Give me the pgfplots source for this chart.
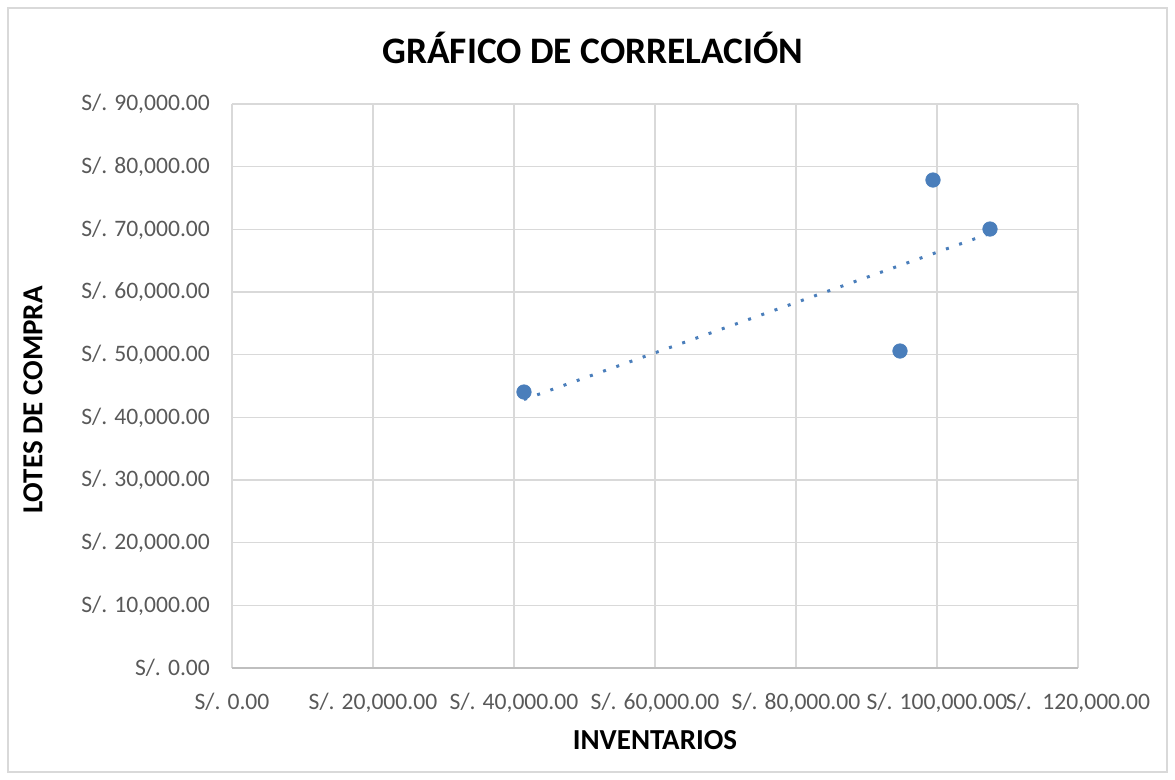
\documentclass[border=0pt]{standalone}
\usepackage{pgfplots}
\usepackage{pgfplotstable}
\pgfplotsset{compat=1.18}
\usepackage{fontspec}
\setmainfont{Carlito}
\definecolor{gridc}{HTML}{D9D9D9}
\definecolor{axc}{HTML}{BFBFBF}
\definecolor{tickc}{HTML}{595959}
\definecolor{ptc}{HTML}{4A7EBB}
\pgfplotstableread{
x y
41418 44040
94752 50583
99433 77870
107518 70050
}\datatable
\begin{document}
\begin{tikzpicture}
\useasboundingbox (-116pt,-56pt) rectangle (471.5pt,334pt);
\draw[gridc, line width=0.6pt] (-112pt,-52pt) rectangle (467.5pt,330pt);
\begin{axis}[
  at={(0,0)}, anchor=south west,
  width=423pt, height=282pt, scale only axis,
  xmin=0, xmax=120000, ymin=0, ymax=90000,
  scaled ticks=false,
  /pgf/number format/assume math mode=true,
  xtick={0,20000,40000,60000,80000,100000,120000},
  xticklabels={S/. 0.00, S/. 20{,}000.00, S/. 40{,}000.00, S/. 60{,}000.00, S/. 80{,}000.00, S/. 100{,}000.00, S/.\ \ 120{,}000.00},
  ytick={0,10000,20000,30000,40000,50000,60000,70000,80000,90000},
  yticklabels={S/. 0.00, S/. 10{,}000.00, S/. 20{,}000.00, S/. 30{,}000.00, S/. 40{,}000.00, S/. 50{,}000.00, S/. 60{,}000.00, S/. 70{,}000.00, S/. 80{,}000.00, S/. 90{,}000.00},
  xmajorgrids, ymajorgrids,
  grid style={gridc, line width=0.8pt},
  major tick length=0pt,
  axis line style={draw=none},
  axis x line*=bottom,
  x axis line style={draw=axc, line width=0.8pt},
  tick label style={font=\fontsize{11.8}{13}\selectfont, text=tickc},
  xticklabel style={yshift=-9pt},
  yticklabel style={xshift=-7.5pt},
  xlabel={\textbf{INVENTARIOS}},
  ylabel={\textbf{LOTES DE COMPRA}},
  label style={font=\fontsize{14.5}{16}\selectfont},
  xlabel style={at={(axis description cs:0.5,0)}, anchor=center, yshift=-36pt},
  ylabel style={at={(axis description cs:0,0.5)}, anchor=center, yshift=99.5pt, xshift=-7pt},
  title={\textbf{GRÁFICO DE CORRELACIÓN}},
  title style={font=\fontsize{18.7}{20}\selectfont, at={(axis description cs:0.5,1)}, anchor=center, yshift=22pt, xshift=-31pt},
  clip=false,
]
\addplot[ptc, line width=1.5pt, dash pattern=on 1.5pt off 5.5pt]
  table[x=x, y={create col/linear regression={y=y}}] {\datatable};
\addplot[only marks, mark=*, mark size=3.6pt, mark options={draw=ptc, fill=ptc}] table[x=x,y=y] {\datatable};
\end{axis}
\end{tikzpicture}
\end{document}
